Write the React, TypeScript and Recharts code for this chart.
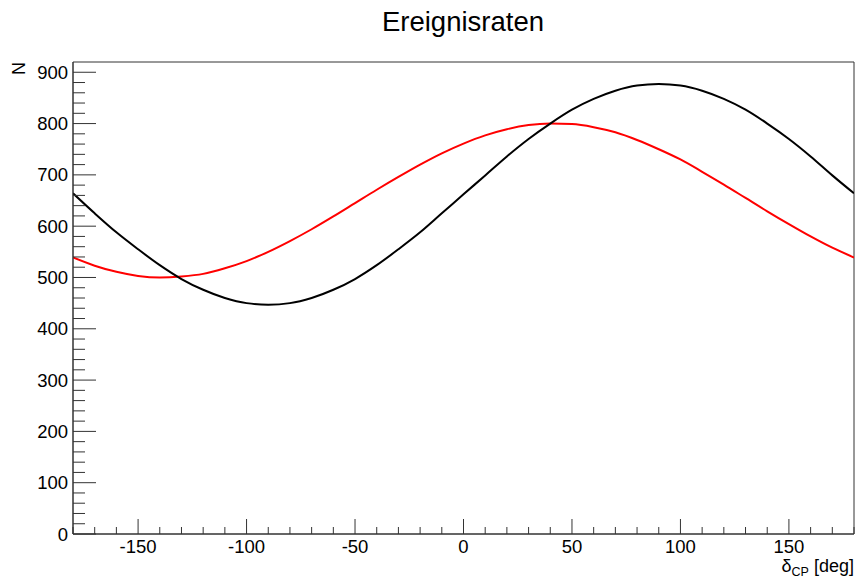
import React from 'react';
import { LineChart, Line, XAxis, YAxis, ReferenceArea } from 'recharts';

const deltaCP = [-180, -170, -160, -150, -140, -130, -120, -110, -100, -90, -80, -70, -60, -50, -40, -30, -20, -10, 0, 10, 20, 30, 40, 50, 60, 70, 80, 90, 100, 110, 120, 130, 140, 150, 160, 170, 180];
const rateBlack = [664, 625, 588, 555, 524, 497, 476, 460, 450, 447, 450, 460, 476, 497, 524, 555, 588, 625, 662, 699, 736, 770, 800, 827, 848, 864, 874, 877, 874, 864, 848, 827, 800, 770, 736, 699, 664];
const rateRed = [539, 523, 511, 503, 500, 502, 507, 518, 532, 550, 571, 594, 619, 645, 671, 696, 720, 742, 761, 777, 789, 797, 800, 799, 793, 783, 768, 750, 730, 706, 681, 655, 629, 604, 580, 558, 539];

const xTicks = [-180, -170, -160, -150, -140, -130, -120, -110, -100, -90, -80, -70, -60, -50, -40, -30, -20, -10, 0, 10, 20, 30, 40, 50, 60, 70, 80, 90, 100, 110, 120, 130, 140, 150, 160, 170, 180];
const xMajor = [-150, -100, -50, 0, 50, 100, 150];
const yTicks = [0, 20, 40, 60, 80, 100, 120, 140, 160, 180, 200, 220, 240, 260, 280, 300, 320, 340, 360, 380, 400, 420, 440, 460, 480, 500, 520, 540, 560, 580, 600, 620, 640, 660, 680, 700, 720, 740, 760, 780, 800, 820, 840, 860, 880, 900];
const yMajor = [0, 100, 200, 300, 400, 500, 600, 700, 800, 900];

const titleText = 'Ereignisraten';
const yTitle = 'N';

const data = deltaCP.map((d, i) => ({ d, black: rateBlack[i], red: rateRed[i] }));

const FONT = '"Liberation Sans", Arial, Helvetica, sans-serif';
const AX = '#333';

const XTick = (props: any) => {
  const { x, y, payload } = props;
  const v = payload.value;
  const major = xMajor.includes(v);
  return (
    <g>
      <line x1={x} x2={x} y1={y} y2={y - (major ? 15 : 7)} stroke={AX} strokeWidth={1} />
      {major && (
        <text x={x} y={y + 19} textAnchor="middle" fontSize={18.5} fontFamily={FONT} fill="#000">
          {v}
        </text>
      )}
    </g>
  );
};

const YTick = (props: any) => {
  const { x, y, payload } = props;
  const v = payload.value;
  const major = yMajor.includes(v);
  return (
    <g>
      <line x1={x} x2={x + (major ? 23 : 12)} y1={y} y2={y} stroke={AX} strokeWidth={1} />
      {major && (
        <text x={x - 5} y={y + 6.5} textAnchor="end" fontSize={18.5} fontFamily={FONT} fill="#000">
          {v}
        </text>
      )}
    </g>
  );
};

export default function App() {
  return (
    <div style={{ position: 'absolute', left: 0, top: 0, width: 857, height: 579, background: '#fff' }}>
      <LineChart
        width={857}
        height={579}
        data={data}
        margin={{ top: 62, right: 3, left: 0, bottom: 0 }}
      >
        <XAxis
          dataKey="d"
          type="number"
          domain={[-180, 180]}
          ticks={xTicks}
          interval={0}
          height={45}
          tickSize={0}
          tickMargin={0}
          tickLine={false}
          tick={<XTick />}
          axisLine={{ stroke: AX }}
          allowDataOverflow
        />
        <YAxis
          type="number"
          domain={[0, 920]}
          ticks={yTicks}
          interval={0}
          width={73}
          tickSize={0}
          tickMargin={0}
          tickLine={false}
          tick={<YTick />}
          axisLine={{ stroke: AX }}
          allowDataOverflow
        />
        <ReferenceArea x1={-180} x2={180} y1={0} y2={920} fill="none" stroke={AX} strokeWidth={1} ifOverflow="visible" />
        <Line type="monotone" dataKey="red" stroke="#ff0000" strokeWidth={2} dot={false} isAnimationActive={false} />
        <Line type="monotone" dataKey="black" stroke="#000000" strokeWidth={2} dot={false} isAnimationActive={false} />
      </LineChart>
      <svg width={857} height={579} style={{ position: 'absolute', left: 0, top: 0, pointerEvents: 'none' }}>
        <text x={463} y={31} textAnchor="middle" fontSize={27.5} fontFamily={FONT} fill="#000">
          {titleText}
        </text>
        <text x={0} y={0} transform="translate(25,62) rotate(-90)" textAnchor="end" fontSize={18} fontFamily={FONT} fill="#000">
          {yTitle}
        </text>
        <text x={854} y={572} textAnchor="end" fontSize={18} fontFamily={FONT} fill="#000">
          δ<tspan fontSize={12.5} dy={4}>CP</tspan><tspan dy={-4}> [deg]</tspan>
        </text>
      </svg>
    </div>
  );
}
